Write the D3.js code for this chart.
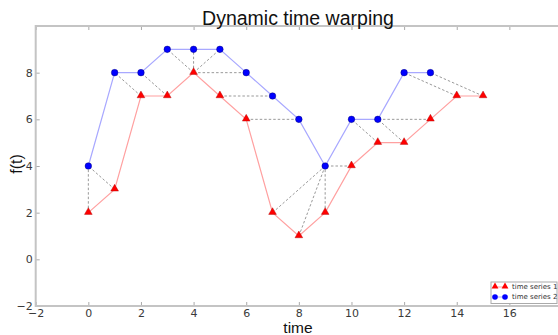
<!DOCTYPE html>
<html>
<head>
<meta charset="utf-8">
<script src="https://cdn.jsdelivr.net/npm/d3@7"></script>
<style>
  body { margin: 0; background: #fff; }
  .axis text { font-family: "DejaVu Sans", sans-serif; font-size: 11px; fill: #3a3a3a; }
  .axis path { display: none; }
  .axis line { stroke: #aaa; }
</style>
</head>
<body>
<div id="chart"></div>
<script>
(function () {

// time series values, index = time step
var series1 = [2, 3, 7, 7, 8, 7, 6, 2, 1, 2, 4, 5, 5, 6, 7, 7];
var series2 = [4, 8, 8, 9, 9, 9, 8, 7, 6, 4, 6, 6, 8, 8];

// warping path: [index in series1, index in series2]
var warpPath = [[0, 0], [1, 0], [2, 1], [3, 2], [4, 3], [4, 4], [4, 5], [4, 6],
    [5, 7], [6, 8], [7, 9], [8, 9], [9, 9], [10, 9], [11, 10], [12, 11],
    [13, 11], [14, 12], [15, 13]];

var xTicks = [-2, 0, 2, 4, 6, 8, 10, 12, 14, 16];
var yTicks = [-2, 0, 2, 4, 6, 8];

var labels = ["time series 1", "time series 2"];

var width = 558,
    height = 335;

var x = d3.scaleLinear()
    .domain([-2, 18])
    .range([35.7, 562]);

var y = d3.scaleLinear()
    .domain([-2, 10])
    .range([306, 26]);

var svg = d3.select("#chart").append("svg")
    .attr("width", width)
    .attr("height", height);

// inward ticks like matplotlib
svg.append("g")
    .attr("class", "axis")
    .attr("transform", "translate(0," + y(-2) + ")")
    .call(d3.axisBottom(x).tickValues(xTicks).tickSizeInner(-4).tickSizeOuter(0).tickPadding(3).tickFormat(d3.format("d")));

svg.append("g")
    .attr("class", "axis")
    .attr("transform", "translate(" + x(-2) + ",0)")
    .call(d3.axisLeft(y).tickValues(yTicks).tickSizeInner(-4).tickSizeOuter(0).tickPadding(3).tickFormat(d3.format("d")));

svg.append("g")
    .attr("class", "axis")
    .attr("transform", "translate(0," + y(10) + ")")
    .call(d3.axisTop(x).tickValues(xTicks).tickSizeInner(-4).tickSizeOuter(0).tickFormat(""));

// frame
svg.append("rect")
    .attr("x", x(-2))
    .attr("y", y(10))
    .attr("width", x(18) - x(-2))
    .attr("height", y(-2) - y(10))
    .attr("fill", "none")
    .attr("stroke", "#c4c4c4")
    .attr("stroke-width", 2);

// warping links
svg.append("g")
    .selectAll("line")
    .data(warpPath)
    .enter()
    .append("line")
    .attr("x1", function (d) { return x(d[0]); })
    .attr("y1", function (d) { return y(series1[d[0]]); })
    .attr("x2", function (d) { return x(d[1]); })
    .attr("y2", function (d) { return y(series2[d[1]]); })
    .attr("stroke", "#999")
    .attr("stroke-width", 1)
    .attr("stroke-dasharray", "2.5,2");

var line = d3.line()
    .x(function (d, i) { return x(i); })
    .y(function (d) { return y(d); });

svg.append("path")
    .attr("d", line(series1))
    .attr("fill", "none")
    .attr("stroke", "#ffa0a0")
    .attr("stroke-width", 1.2);

svg.append("path")
    .attr("d", line(series2))
    .attr("fill", "none")
    .attr("stroke", "#a8a8ff")
    .attr("stroke-width", 1.2);

var tri = d3.symbol().type(d3.symbolTriangle).size(26);

svg.append("g")
    .selectAll("path")
    .data(series1)
    .enter()
    .append("path")
    .attr("d", tri)
    .attr("transform", function (d, i) { return "translate(" + x(i) + "," + (y(d) - 0.5) + ")"; })
    .attr("fill", "#f00")
    .attr("stroke", "#a00")
    .attr("stroke-width", 0.4);

svg.append("g")
    .selectAll("circle")
    .data(series2)
    .enter()
    .append("circle")
    .attr("cx", function (d, i) { return x(i); })
    .attr("cy", function (d) { return y(d); })
    .attr("r", 3.3)
    .attr("fill", "#00f")
    .attr("stroke", "#006")
    .attr("stroke-width", 0.4);

// titles
svg.append("text")
    .attr("x", 298)
    .attr("y", 25)
    .attr("text-anchor", "middle")
    .style("font-family", "'Liberation Sans', Arial, sans-serif")
    .style("font-size", "19.5px")
    .style("fill", "#111")
    .text("Dynamic time warping");

svg.append("text")
    .attr("x", 298)
    .attr("y", 333)
    .attr("text-anchor", "middle")
    .style("font-family", "'Liberation Sans', Arial, sans-serif")
    .style("font-size", "15.5px")
    .style("fill", "#111")
    .text("time");

svg.append("text")
    .attr("transform", "translate(22,164) rotate(-90)")
    .attr("text-anchor", "middle")
    .style("font-family", "'Liberation Sans', Arial, sans-serif")
    .style("font-size", "16px")
    .style("fill", "#111")
    .text("f(t)");

// legend
var legend = svg.append("g")
    .attr("transform", "translate(491,282)");

legend.append("rect")
    .attr("width", 66)
    .attr("height", 21.5)
    .attr("fill", "#fff")
    .attr("stroke", "#aaa")
    .attr("stroke-width", 1);

var rows = legend.selectAll("g")
    .data(labels)
    .enter()
    .append("g")
    .attr("transform", function (d, i) { return "translate(0," + (5 + i * 10) + ")"; });

rows.append("line")
    .attr("x1", 4)
    .attr("x2", 14)
    .attr("stroke", function (d, i) { return i === 0 ? "#ffa0a0" : "#a8a8ff"; });

rows.each(function (d, i) {
    var g = d3.select(this);
    [4, 14].forEach(function (mx) {
        if (i === 0) {
            g.append("path")
                .attr("d", d3.symbol().type(d3.symbolTriangle).size(20))
                .attr("transform", "translate(" + mx + ",-0.5)")
                .attr("fill", "#f00");
        } else {
            g.append("circle")
                .attr("cx", mx)
                .attr("r", 2.8)
                .attr("fill", "#00f");
        }
    });
});

rows.append("text")
    .attr("x", 21)
    .attr("dy", "0.35em")
    .style("font-family", "'DejaVu Sans', sans-serif")
    .style("font-size", "7px")
    .style("fill", "#333")
    .text(function (d) { return d; });

}).call(this);
</script>
</body>
</html>
